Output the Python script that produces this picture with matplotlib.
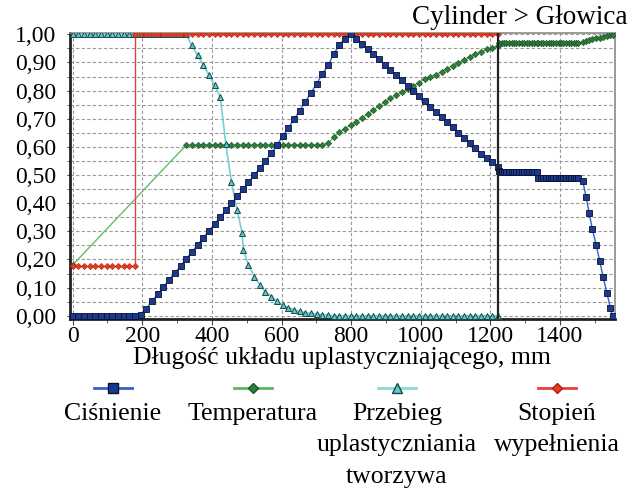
import matplotlib
matplotlib.use("Agg")
import matplotlib.pyplot as plt
from matplotlib.lines import Line2D
from matplotlib.ticker import FuncFormatter, MultipleLocator

plt.rcParams['font.family'] = ['Liberation Serif', 'DejaVu Serif']

# wspolna siatka punktow w cylindrze (mm)
x_screw = [0, 16, 33, 49, 65, 82, 98, 114, 130, 147, 163, 179, 196, 212, 228, 245,
           261, 277, 293, 310, 326, 342, 359, 375, 391, 408, 424, 440, 456, 473,
           489, 505, 522, 538, 554, 571, 587, 603, 619, 636, 652, 668, 685, 701,
           717, 734, 750, 766, 782, 799, 815, 831, 848, 864, 880, 897, 913, 929,
           945, 962, 978, 994, 1011, 1027, 1043, 1060, 1076, 1092, 1108, 1125,
           1141, 1157, 1174, 1190, 1206, 1223]
# punkty w glowicy
x_head = [1225, 1232, 1239, 1246, 1254, 1261, 1268, 1275, 1283, 1290, 1297, 1304,
          1312, 1319, 1326, 1333, 1338, 1345, 1352, 1360, 1367, 1374, 1381, 1389,
          1396, 1403, 1410, 1418, 1425, 1432, 1439, 1446, 1453, 1465, 1475, 1484,
          1493, 1504, 1514, 1524, 1535, 1545, 1551]

# Cisnienie
p_screw = ([0.0] * 12 +
           [0.003, 0.025, 0.051, 0.077, 0.102, 0.128, 0.151, 0.176, 0.201,
            0.226, 0.251, 0.276, 0.301, 0.326, 0.35, 0.374, 0.399, 0.424, 0.449,
            0.474, 0.5, 0.525, 0.551, 0.578, 0.607, 0.637, 0.667, 0.698, 0.729,
            0.76, 0.792, 0.825, 0.858, 0.89, 0.93, 0.962, 0.985, 1.0,
            0.985, 0.967, 0.947, 0.929, 0.911, 0.892, 0.873, 0.855, 0.837, 0.817,
            0.799, 0.781, 0.762, 0.743, 0.725, 0.706, 0.687, 0.669, 0.651, 0.632,
            0.613, 0.595, 0.576, 0.559, 0.545, 0.528])
p_head = ([0.515] + [0.512] * 15 + [0.49] + [0.488] * 16 +
          [0.48, 0.423, 0.364, 0.307, 0.251, 0.195, 0.137, 0.08, 0.026, 0.0])

# Temperatura
t_x = [0] + x_screw[20:] + x_head
t_val = ([0.18] + [0.606] * 25 +
         [0.614, 0.635, 0.652, 0.665, 0.678, 0.69, 0.703, 0.717, 0.731, 0.745,
          0.759, 0.772, 0.784, 0.795, 0.805, 0.816, 0.828, 0.84, 0.849, 0.857,
          0.867, 0.878, 0.889, 0.899, 0.91, 0.92, 0.93, 0.938, 0.946, 0.952, 0.958] +
         [0.969] * 33 +
         [0.972, 0.976, 0.98, 0.983, 0.986, 0.988, 0.991, 0.994, 0.996, 0.998])

# Przebieg uplastyczniania tworzywa
c_x = x_screw[:30] + [487, 490] + x_screw[31:]
c_val = ([1.0] * 21 +
         [0.961, 0.926, 0.892, 0.857, 0.819, 0.778, 0.61, 0.476, 0.374] +
         [0.293, 0.234] +
         [0.181, 0.139, 0.11, 0.084, 0.068, 0.051, 0.037, 0.029, 0.021, 0.015,
          0.011, 0.008, 0.006, 0.004, 0.002] +
         [0.0] * 30)

# Stopien wypelnienia
r_x = x_screw[:12] + x_screw[11:]
r_val = [0.177] * 12 + [1.0] * 65

x_border = 1223

fig = plt.figure(figsize=(6.35, 4.92), dpi=100)
ax = fig.add_axes([0.110, 0.352, 0.8585, 0.580])

ax.plot(t_x, t_val, color='#66bb66', lw=1, marker='D', ms=3.2,
        mfc='#2e7d3a', mec='#1d5a28', mew=0.5, zorder=3)
ax.plot(c_x, c_val, color='#72d2d2', lw=1.2, marker='^', ms=4.5,
        mfc='#5cc8c8', mec='#1c4848', mew=0.7, zorder=4)
ax.plot(r_x, r_val, color='#e84040', lw=1, marker='D', ms=3.2,
        mfc='#e8391c', mec='#b02010', mew=0.4, zorder=5)
ax.plot(x_screw + x_head, p_screw + p_head, color='#3a5fc8', lw=1, marker='s',
        ms=4.2, mfc='#1a3a8f', mec='#0a1030', mew=0.6, zorder=6)
ax.axvline(x_border, color='#222222', lw=1.6, zorder=7)

ax.set_xlim(-8, 1558)
ax.set_ylim(-0.011, 1.003)
ax.xaxis.set_major_locator(MultipleLocator(200))
ax.xaxis.set_minor_locator(MultipleLocator(100))
ax.yaxis.set_major_locator(MultipleLocator(0.1))
ax.yaxis.set_minor_locator(MultipleLocator(0.05))
ax.yaxis.set_major_formatter(FuncFormatter(lambda v, p: f"{v:.2f}".replace('.', ',')))

ax.grid(True, which='major', axis='x', color='#9a9a9a', ls=(0, (3, 2)), lw=0.8)
ax.grid(True, which='both', axis='y', color='#9a9a9a', ls=(0, (3, 2)), lw=0.8)
ax.set_axisbelow(True)

for s in ['left', 'bottom']:
    ax.spines[s].set_color('#222222')
    ax.spines[s].set_linewidth(2)
for s in ['top', 'right']:
    ax.spines[s].set_color('#8a8a8a')
    ax.spines[s].set_linewidth(1.2)

ax.tick_params(axis='both', which='both', labelsize=17, color='#444444')
ax.tick_params(axis='x', which='major', length=4, pad=1)
ax.tick_params(axis='x', which='minor', length=3)
ax.tick_params(axis='y', which='both', length=2, pad=8)

ax.set_xlabel('Długość układu uplastyczniającego, mm', fontsize=18.5, labelpad=0)

fig.text(627 / 635, 1 - 18 / 492, 'Cylinder > Głowica', fontsize=19.5,
         ha='right', va='center')

# legenda pod wykresem
legend_items = [
    (113, 'Ciśnienie', '#3a5fc8', 's', '#1a3a8f', '#0a1030', 7),
    (253, 'Temperatura', '#5cb85c', 'D', '#2e7d3a', '#1d5a28', 5.5),
    (397, 'Przebieg\nuplastyczniania\ntworzywa', '#8adada', '^', '#5cc8c8', '#1c4848', 7.5),
    (557, 'Stopień\nwypełnienia', '#e84040', 'D', '#e8391c', '#b02010', 5.5),
]
hy = 1 - 388 / 492
for cx, label, lc, mk, fc, ec, size in legend_items:
    fig.add_artist(Line2D([(cx - 19) / 635, (cx + 19) / 635], [hy, hy],
                          transform=fig.transFigure, color=lc, lw=2))
    fig.add_artist(Line2D([cx / 635], [hy], transform=fig.transFigure,
                          marker=mk, ms=size, mfc=fc, mec=ec, mew=1, ls='none'))
    fig.text(cx / 635, 1 - 403 / 492, label, fontsize=18.5, ha='center', va='top',
             linespacing=1.55)

fig.savefig('out.png', dpi=100)
